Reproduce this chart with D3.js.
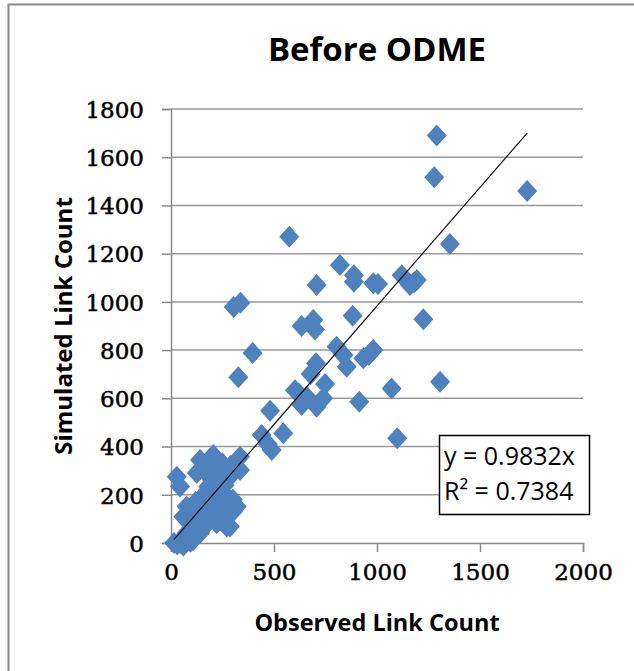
<!DOCTYPE html>
<html>
<head>
<meta charset="utf-8">
<script src="https://cdn.jsdelivr.net/npm/d3@7"></script>
<style>
  body { margin: 0; background: #fff; }
  svg { display: block; }
</style>
</head>
<body>
<div id="chart"></div>
<script>
// observed (x) vs simulated (y) link counts
var observed = [1290, 1278, 1729, 574, 1354, 820, 888, 888, 707, 982, 1005, 1120, 1160, 1193, 1180,
  1225, 882, 304, 337, 634, 691, 699, 396, 804, 837, 853, 934, 982, 960, 704, 678, 748, 602, 659,
  707, 739, 634, 620, 1071, 1306, 914, 327, 1098, 481, 440, 545, 489, 470,
  28, 44, 141, 205, 238, 173, 270, 335, 335, 181, 76, 60, 125, 189, 270, 319, 222, 270, 15, 30,
  60, 108, 76, 141, 189, 238, 286, 108, 125, 222, 300, 44, 95, 160, 250, 210, 300, 155, 220,
  160, 250, 290, 200, 260, 240, 280, 160, 200, 230, 300, 180, 120, 260, 215];
var simulated = [1690, 1517, 1460, 1270, 1240, 1153, 1111, 1084, 1070, 1077, 1074, 1111, 1070, 1091, 1080,
  928, 943, 979, 996, 900, 925, 886, 788, 814, 780, 731, 766, 800, 780, 745, 701, 659, 634, 607,
  565, 600, 572, 620, 641, 669, 586, 687, 434, 549, 448, 455, 386, 410,
  275, 234, 344, 365, 316, 289, 261, 358, 303, 234, 151, 109, 123, 151, 178, 151, 82, 68, 0, -5,
  -10, 12, 41, 41, 166, 95, 68, 95, 290, 290, 290, 0, 5, 200, 210, 120, 180, 60, 340,
  320, 330, 320, 260, 240, 150, 120, 110, 200, 230, 130, 180, 170, 290, 140];

var xTicks = [0, 500, 1000, 1500, 2000];
var yTicks = [0, 200, 400, 600, 800, 1000, 1200, 1400, 1600, 1800];
var slope = 0.9832;
var fitLabels = ["y = 0.9832x", "R\u00b2 = 0.7384"];

var W = 634, H = 671;
var plotL = 171, plotR = 583, plotT = 109, plotB = 543;

var svg = d3.select('#chart')
  .append('svg')
    .attr('width', W)
    .attr('height', H);

// chart area border (only top and left show in the picture)
svg.append('rect')
  .attr('x', 8.5).attr('y', 4.5)
  .attr('width', 800).attr('height', 800)
  .attr('fill', 'none')
  .attr('stroke', '#8a8a8a')
  .attr('stroke-width', 2);

var x = d3.scaleLinear().domain([0, 2000]).range([plotL, plotR]);
var y = d3.scaleLinear().domain([0, 1800]).range([plotB, plotT]);

// horizontal gridlines
svg.append('g')
  .selectAll('line')
  .data(yTicks.slice(1))
  .enter()
    .append('line')
      .attr('x1', plotL).attr('x2', plotR)
      .attr('y1', function (d) { return y(d); })
      .attr('y2', function (d) { return y(d); })
      .attr('stroke', '#999')
      .attr('stroke-width', 1.5);

var tickFont = '"DejaVu Serif", serif';

var xAxis = svg.append('g')
  .attr('transform', 'translate(0,' + plotB + ')')
  .call(d3.axisBottom(x).tickValues(xTicks).tickSize(9).tickPadding(12).tickFormat(d3.format('d')));
var yAxis = svg.append('g')
  .attr('transform', 'translate(' + plotL + ',0)')
  .call(d3.axisLeft(y).tickValues(yTicks).tickSize(9).tickPadding(18).tickFormat(d3.format('d')));

[xAxis, yAxis].forEach(function (ax) {
  ax.select('.domain').attr('stroke', '#8a8a8a').attr('stroke-width', 1.5);
  ax.selectAll('.tick line').attr('stroke', '#8a8a8a').attr('stroke-width', 1.5);
  ax.selectAll('.tick text')
    .attr('fill', '#000')
    .attr('stroke', '#000')
    .attr('stroke-width', 0.5)
    .style('font-family', tickFont)
    .style('font-size', '23px');
});
xAxis.selectAll('.tick text').attr('dy', '0.71em');
yAxis.selectAll('.tick text').attr('dy', '0.36em');

// markers
var pts = d3.range(observed.length).map(function (i) {
  return { x: observed[i], y: simulated[i] };
});

svg.append('g')
  .selectAll('path.pt')
  .data(pts)
  .enter()
    .append('path')
      .classed('pt', true)
      .attr('d', 'M0,-11L10,0L0,11L-10,0Z')
      .attr('transform', function (d) { return 'translate(' + x(d.x) + ',' + y(d.y) + ')'; })
      .attr('fill', '#4F81BD');

// linear trendline through origin, over the range of the data
var xr = d3.extent(observed);
svg.append('line')
  .attr('x1', x(xr[0])).attr('y1', y(slope * xr[0]))
  .attr('x2', x(xr[1])).attr('y2', y(slope * xr[1]))
  .attr('stroke', '#111')
  .attr('stroke-width', 1.2);

// trendline label box
var box = svg.append('g').attr('transform', 'translate(439,435)');
box.append('rect')
  .attr('x', 0.5).attr('y', 0.5)
  .attr('width', 150).attr('height', 79)
  .attr('fill', '#fff')
  .attr('stroke', '#000')
  .attr('stroke-width', 1.5);
box.selectAll('text')
  .data(fitLabels)
  .enter()
    .append('text')
      .attr('x', 5)
      .attr('y', function (d, i) { return 30 + i * 35; })
      .style('font-family', '"Open Sans", sans-serif')
      .style('font-size', '25px')
      .text(function (d) { return d; });

// titles
svg.append('text')
  .attr('x', (plotL + plotR) / 2)
  .attr('y', 61)
  .attr('text-anchor', 'middle')
  .style('font-family', '"Open Sans", sans-serif')
  .style('font-weight', 'bold')
  .style('font-size', '33px')
  .text('Before ODME');

svg.append('text')
  .attr('x', (plotL + plotR) / 2)
  .attr('y', 631)
  .attr('text-anchor', 'middle')
  .style('font-family', '"Open Sans", sans-serif')
  .style('font-weight', 'bold')
  .style('font-size', '23.5px')
  .text('Observed Link Count');

svg.append('text')
  .attr('transform', 'translate(72,' + (plotT + plotB) / 2 + ') rotate(-90)')
  .attr('text-anchor', 'middle')
  .style('font-family', '"Open Sans", sans-serif')
  .style('font-weight', 'bold')
  .style('font-size', '24px')
  .text('Simulated Link Count');
</script>
</body>
</html>
